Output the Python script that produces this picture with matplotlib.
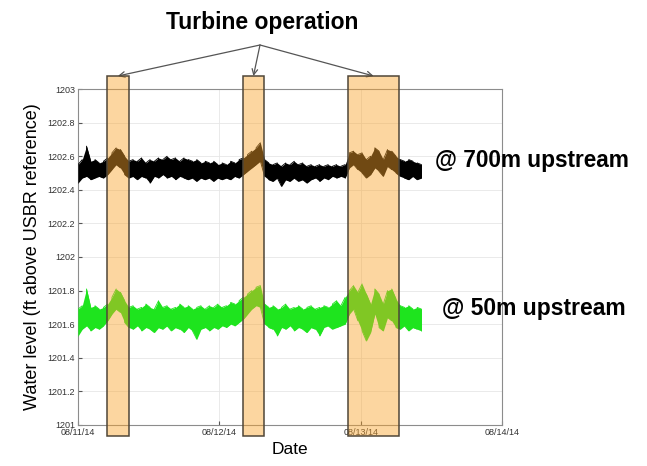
import matplotlib
matplotlib.use("Agg")
import matplotlib.pyplot as plt
import matplotlib.transforms as mtransforms
from matplotlib.patches import Rectangle
import numpy as np

plt.rcParams["font.family"] = ["Liberation Sans", "DejaVu Sans"]

# time axis in days after 08/11/14 00:00, one sample every 0.03 d
days = np.round(np.arange(82) * 0.03, 2)

# 700 m upstream gauge: upper / lower edge of the noisy trace (ft)
up700 = [1202.55, 1202.58, 1202.66, 1202.57, 1202.58, 1202.56, 1202.57, 1202.59,
         1202.62, 1202.65, 1202.64, 1202.60, 1202.57, 1202.58, 1202.57, 1202.59,
         1202.56, 1202.58, 1202.57, 1202.59, 1202.58, 1202.60, 1202.58, 1202.59,
         1202.57, 1202.59, 1202.58, 1202.57, 1202.58, 1202.56, 1202.57, 1202.56,
         1202.57, 1202.55, 1202.56, 1202.55, 1202.57, 1202.56, 1202.58, 1202.59,
         1202.61, 1202.63, 1202.65, 1202.68, 1202.58, 1202.56, 1202.55, 1202.56,
         1202.54, 1202.56, 1202.55, 1202.57, 1202.55, 1202.56, 1202.54, 1202.55,
         1202.54, 1202.55, 1202.54, 1202.55, 1202.54, 1202.55, 1202.54, 1202.55,
         1202.62, 1202.63, 1202.61, 1202.62, 1202.58, 1202.60, 1202.65, 1202.63,
         1202.58, 1202.64, 1202.63, 1202.60, 1202.58, 1202.57, 1202.58, 1202.57,
         1202.56, 1202.55]
lo700 = [1202.44, 1202.47, 1202.48, 1202.46, 1202.47, 1202.48, 1202.47, 1202.49,
         1202.52, 1202.55, 1202.53, 1202.49, 1202.47, 1202.48, 1202.46, 1202.48,
         1202.47, 1202.44, 1202.48, 1202.47, 1202.49, 1202.47, 1202.48, 1202.46,
         1202.48, 1202.47, 1202.46, 1202.47, 1202.45, 1202.47, 1202.46, 1202.47,
         1202.45, 1202.47, 1202.46, 1202.47, 1202.46, 1202.48, 1202.47, 1202.49,
         1202.51, 1202.53, 1202.55, 1202.57, 1202.48, 1202.46, 1202.45, 1202.47,
         1202.42, 1202.46, 1202.45, 1202.47, 1202.45, 1202.46, 1202.44, 1202.46,
         1202.47, 1202.45, 1202.47, 1202.46, 1202.48, 1202.47, 1202.48, 1202.47,
         1202.53, 1202.55, 1202.52, 1202.50, 1202.47, 1202.49, 1202.53, 1202.51,
         1202.48, 1202.54, 1202.52, 1202.50, 1202.48, 1202.47, 1202.46, 1202.48,
         1202.46, 1202.47]

# 50 m upstream gauge
up50 = [1201.69, 1201.71, 1201.81, 1201.70, 1201.71, 1201.69, 1201.70, 1201.72,
        1201.76, 1201.81, 1201.79, 1201.74, 1201.70, 1201.71, 1201.69, 1201.70,
        1201.72, 1201.70, 1201.69, 1201.74, 1201.70, 1201.71, 1201.69, 1201.70,
        1201.72, 1201.70, 1201.71, 1201.69, 1201.70, 1201.71, 1201.69, 1201.71,
        1201.70, 1201.72, 1201.70, 1201.71, 1201.73, 1201.72, 1201.74, 1201.76,
        1201.78, 1201.80, 1201.82, 1201.83, 1201.72, 1201.70, 1201.71, 1201.69,
        1201.70, 1201.72, 1201.69, 1201.70, 1201.71, 1201.69, 1201.70, 1201.71,
        1201.69, 1201.70, 1201.71, 1201.70, 1201.72, 1201.74, 1201.71, 1201.76,
        1201.80, 1201.83, 1201.79, 1201.84, 1201.78, 1201.72, 1201.81, 1201.78,
        1201.72, 1201.80, 1201.81, 1201.75, 1201.71, 1201.70, 1201.71, 1201.69,
        1201.70, 1201.69]
lo50 = [1201.53, 1201.57, 1201.59, 1201.56, 1201.58, 1201.57, 1201.59, 1201.62,
        1201.66, 1201.69, 1201.67, 1201.61, 1201.58, 1201.57, 1201.59, 1201.56,
        1201.58, 1201.57, 1201.55, 1201.58, 1201.57, 1201.59, 1201.56, 1201.58,
        1201.57, 1201.55, 1201.58, 1201.56, 1201.51, 1201.57, 1201.58, 1201.56,
        1201.58, 1201.57, 1201.59, 1201.58, 1201.60, 1201.59, 1201.61, 1201.63,
        1201.66, 1201.69, 1201.71, 1201.70, 1201.60, 1201.58, 1201.57, 1201.53,
        1201.58, 1201.57, 1201.59, 1201.56, 1201.58, 1201.57, 1201.55, 1201.58,
        1201.57, 1201.53, 1201.58, 1201.59, 1201.57, 1201.58, 1201.59, 1201.60,
        1201.66, 1201.69, 1201.62, 1201.56, 1201.50, 1201.55, 1201.66, 1201.58,
        1201.56, 1201.64, 1201.62, 1201.58, 1201.57, 1201.59, 1201.56, 1201.58,
        1201.57, 1201.56]

# turbine operation windows (start, end) in days
turbine_on = [(0.203, 0.361), (1.166, 1.316), (1.911, 2.272)]

xtick_days = [0, 1, 2, 3]
xtick_labels = ["08/11/14", "08/12/14", "08/13/14", "08/14/14"]
yticks = np.round(np.arange(1201, 1203.01, 0.2), 1)
ytick_labels = ["%g" % v for v in yticks]


def draw_trace(ax, t, lo, hi, color):
    """Noisy gauge record: envelope fill plus a zigzag between its edges."""
    ax.fill_between(t, lo, hi, color=color, lw=0, zorder=3)
    zx = np.repeat(t, 2)
    zy = np.column_stack([lo, hi]).ravel()
    zy[2::4], zy[3::4] = zy[3::4].copy(), zy[2::4].copy()
    ax.plot(zx, zy, color=color, lw=0.6, zorder=3)


fig = plt.figure(figsize=(6.47, 4.66), dpi=100)
ax = fig.add_axes([0.1206, 0.088, 0.6553, 0.721])

draw_trace(ax, days, lo700, up700, "black")
draw_trace(ax, days, lo50, up50, "#1ee41e")

ax.set_xlim(0, 3)
ax.set_ylim(1201, 1203)
ax.set_xticks(xtick_days)
ax.set_xticklabels(xtick_labels)
ax.set_yticks(yticks)
ax.set_yticklabels(ytick_labels)
ax.tick_params(direction="in", length=3, labelsize=6.5, colors="#555555",
               labelcolor="#333333", pad=2)
ax.grid(True, color="#e6e6e6", lw=0.6)
for s in ax.spines.values():
    s.set_color("#8c8c8c")
    s.set_linewidth(0.8)
ax.set_xlabel("Date", fontsize=12.5, labelpad=4)
ax.set_ylabel("Water level (ft above USBR reference)", fontsize=13, labelpad=5)

# shaded turbine windows spill past the axes frame
trans = mtransforms.blended_transform_factory(ax.transData, fig.transFigure)
y0, y1 = 1 - 436 / 466, 1 - 76 / 466
for t0, t1 in turbine_on:
    ax.add_patch(Rectangle((t0, y0), t1 - t0, y1 - y0, transform=trans,
                           facecolor=(0.976, 0.643, 0.173, 0.45),
                           edgecolor="#4f4638", lw=1.1, clip_on=False, zorder=6))

fig.text(262 / 647, 1 - 22 / 466, "Turbine operation", fontsize=16.5,
         fontweight="bold", ha="center", va="center")
src = (260 / 647, 1 - 45 / 466)
for t0, t1 in turbine_on:
    xm = (t0 + t1) / 2
    ax.annotate("", xy=(xm, y1), xycoords=trans, xytext=src,
                textcoords="figure fraction",
                arrowprops=dict(arrowstyle="->", color="#555555", lw=0.9,
                                shrinkA=0, shrinkB=0))

fig.text(435 / 647, 1 - 160 / 466, "@ 700m upstream", fontsize=16.3,
         fontweight="bold", ha="left", va="center")
fig.text(442 / 647, 1 - 309 / 466, "@ 50m upstream", fontsize=16.5,
         fontweight="bold", ha="left", va="center")

fig.savefig("out.png", dpi=100)
